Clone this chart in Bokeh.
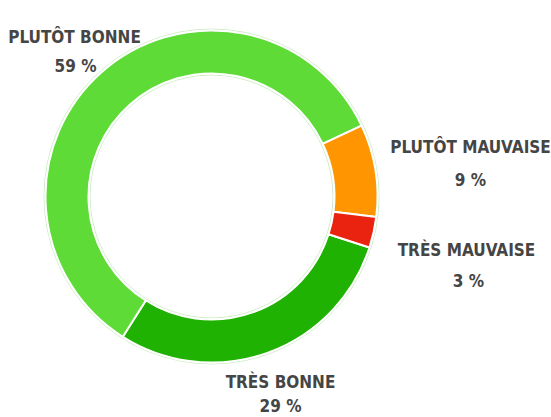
import math
from bokeh.plotting import figure
from bokeh.models import Range1d, ColumnDataSource
from bokeh.core.properties import value
from bokeh.embed import file_html
from bokeh.resources import INLINE

# ---- data ----
categories = ["Très bonne", "Plutôt bonne", "Plutôt mauvaise", "Très mauvaise"]
values = [29, 59, 9, 3]
colors = ["#20b202", "#5fdb37", "#ff9500", "#e9230f"]

# ---- layout ----
W, H = 551, 417
CX, CY = 211, 196          # pixel centre of the donut (from top)
R_OUT, R_IN = 166, 123
START_DEG = -17.9          # first slice starts here (math angle), drawn clockwise
name_pos = [(280, 381), (74, 36), (470, 146), (466, 249)]   # baselines (px from top)
pct_pos = [(280, 405), (75, 65), (470, 179), (468, 280)]

p = figure(width=W, height=H, output_backend="svg", toolbar_location=None,
           x_range=Range1d(0, W), y_range=Range1d(0, H), min_border=0)
p.axis.visible = False
p.grid.visible = False
p.outline_line_color = None
p.background_fill_color = "white"
p.border_fill_color = "white"

total = float(sum(values))
starts, ends = [], []
cum = 0.0
for v in values:
    a_from = START_DEG - cum / total * 360.0
    cum += v
    a_to = START_DEG - cum / total * 360.0
    starts.append(math.radians(a_to))
    ends.append(math.radians(a_from))

cy = H - CY
src = ColumnDataSource(dict(x=[CX] * len(values), y=[cy] * len(values),
                            s=starts, e=ends, c=colors))

p.circle(x=[CX], y=[cy], radius=R_OUT + 1.5, fill_color=None,
         line_color="#cdeec4", line_width=1)
p.circle(x=[CX], y=[cy], radius=R_IN - 1.5, fill_color=None,
         line_color="#cdeec4", line_width=1)

p.annular_wedge(x="x", y="y", inner_radius=R_IN, outer_radius=R_OUT,
                start_angle="s", end_angle="e", direction="anticlock",
                fill_color="c", line_color="white", line_width=2, source=src)

names = [c.upper() for c in categories]
pcts = [f"{v} %" for v in values]
tsrc = ColumnDataSource(dict(
    x=[q[0] for q in name_pos] + [q[0] for q in pct_pos],
    y=[H - q[1] for q in name_pos] + [H - q[1] for q in pct_pos],
    t=names + pcts))
p.text(x="x", y="y", text="t", source=tsrc,
       text_font=value("DejaVu Sans Condensed"), text_font_style="bold",
       text_font_size="17px", text_color="#454545",
       text_align="center", text_baseline="alphabetic")

open("out.html", "w").write(file_html(p, INLINE))
